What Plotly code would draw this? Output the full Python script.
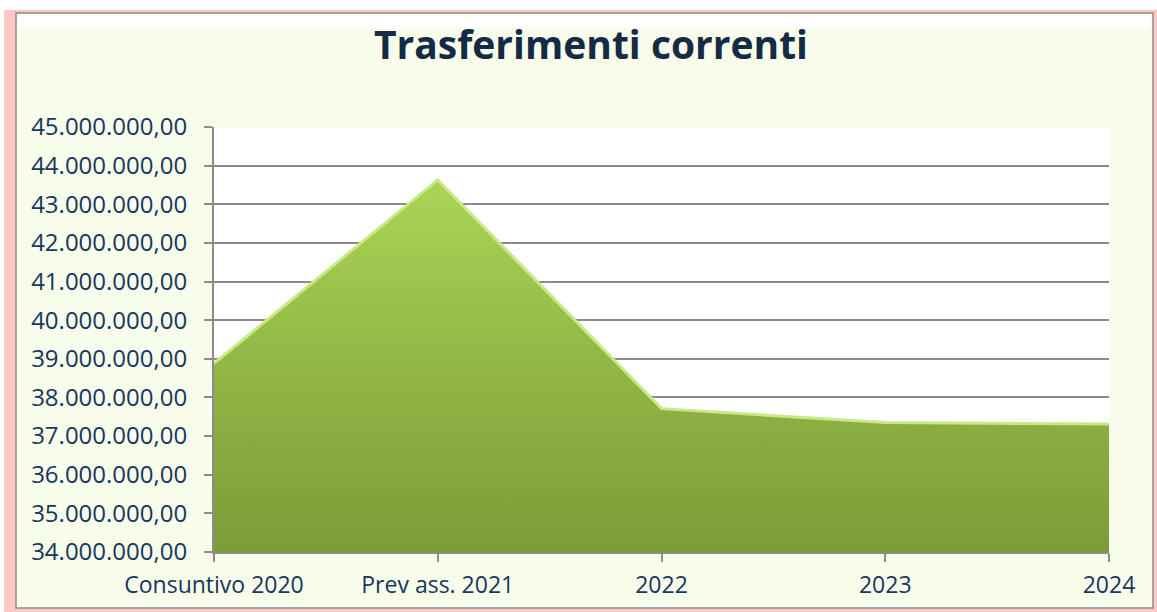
import plotly.graph_objects as go

categories = ["Consuntivo 2020", "Prev ass. 2021", "2022", "2023", "2024"]
values = [38_880_000, 43_630_000, 37_710_000, 37_350_000, 37_310_000]
y_min, y_max, y_step = 34_000_000, 45_000_000, 1_000_000
title_text = "Trasferimenti correnti"

W, H = 1157, 612
L, R, T, B = 214, 48, 127, 60
pw, ph = W - L - R, H - T - B

def px(x):
    return (x - L) / pw

def py(y):
    return (H - B - y) / ph

text_color = "#17375E"
title_color = "#142A45"
font_family = "Open Sans, Lato, sans-serif"

fig = go.Figure()
fig.add_trace(go.Scatter(
    x=categories, y=values, mode="lines",
    line=dict(color="#C9E887", width=3),
    fill="tozeroy",
    fillgradient=dict(type="vertical",
                      colorscale=[[0, "#7C9C38"], [0.45, "#8FB444"], [1, "#AAD556"]],
                      start=y_min, stop=max(values)),
    hoverinfo="skip", showlegend=False,
))

shapes = [
    dict(type="rect", xref="paper", yref="paper", x0=px(4), x1=px(W), y0=py(10), y1=py(H),
         fillcolor="#FFC8C8", line=dict(width=0), layer="below"),
    dict(type="rect", xref="paper", yref="paper", x0=px(16), x1=px(1153), y0=py(13), y1=py(608),
         fillcolor="#F8FCEB", line=dict(color="#8C8C8C", width=1.5), layer="below"),
    dict(type="rect", xref="paper", yref="paper", x0=px(18), x1=px(1150), y0=py(15), y1=py(28),
         fillcolor="#FFFFFF", line=dict(width=0), layer="below"),
    dict(type="rect", xref="paper", yref="paper", x0=0, x1=1, y0=0, y1=1,
         fillcolor="#FFFFFF", line=dict(width=0), layer="below"),
]

fig.update_layout(
    width=W, height=H,
    margin=dict(l=L, r=R, t=T, b=B),
    paper_bgcolor="#FFFFFF", plot_bgcolor="#FFFFFF",
    separators=",.",
    font=dict(family=font_family, color=text_color, size=23),
    title=dict(text="<b>" + title_text + "</b>", x=591 / W, xref="container", xanchor="center",
               y=1 - 45 / H, yanchor="middle",
               font=dict(family=font_family, size=39, color=title_color)),
    shapes=shapes,
    showlegend=False,
)
fig.update_xaxes(type="category", range=[0, len(categories) - 1],
                 showgrid=False, showline=True, linecolor="#8C8C8C", linewidth=2,
                 ticks="outside", ticklen=8, tickcolor="#8C8C8C", tickwidth=2,
                 tickfont=dict(size=23, color=text_color), ticklabelstandoff=3)
fig.update_yaxes(range=[y_min, y_max], dtick=y_step, tick0=y_min, tickformat=",.2f",
                 showgrid=True, gridcolor="#8C8C8C", gridwidth=1.5,
                 showline=True, linecolor="#8C8C8C", linewidth=2,
                 ticks="outside", ticklen=8, tickcolor="#8C8C8C", tickwidth=2,
                 tickfont=dict(size=24, color=text_color), ticklabelstandoff=12,
                 zeroline=False)

fig.write_html("out.html", config={"displayModeBar": False},
               post_script="document.body.style.margin='0';document.body.style.overflow='hidden';")
